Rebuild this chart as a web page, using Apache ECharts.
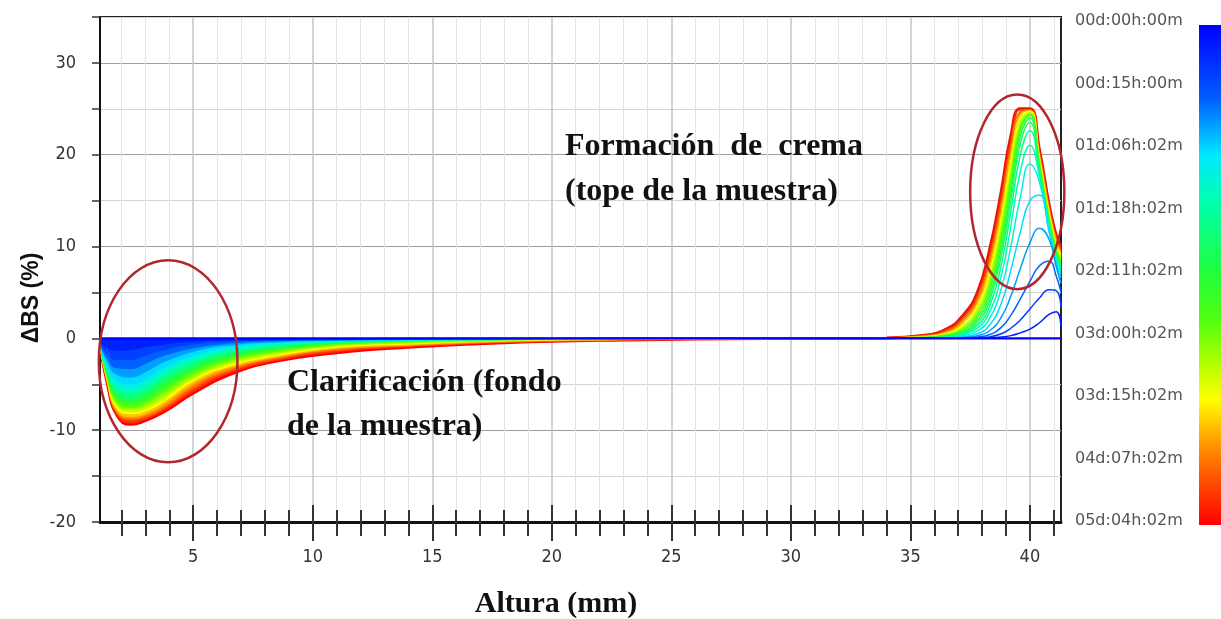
<!DOCTYPE html>
<html>
<head>
<meta charset="utf-8">
<script src="https://cdn.jsdelivr.net/npm/echarts@6/dist/echarts.min.js"></script>
<style>
  html, body { margin: 0; padding: 0; background: #fff; }
  #chart { width: 1221px; height: 619px; }
</style>
</head>
<body>
<div id="chart"></div>
<script>
// Sample heights (mm) for the lower (clarification) and upper (creaming) parts of each profile
const heightLow = [1.1, 1.4, 1.8, 2.4, 3.0, 3.8, 5.0, 6.5, 8.5, 11, 14, 18, 23, 29, 34];
const heightTop = [34, 35.5, 36.5, 37.2, 37.8, 38.3, 38.8, 39.2, 39.6, 40.0, 40.4, 40.8, 41.1, 41.3];

// ΔBS (%) of each scan along the lower part, first row = reference scan
const bsLow = [
  [0, 0, 0, 0, 0, 0, 0, 0, 0, 0, 0, 0, 0, 0, 0],
  [-0.3, -1.0, -1.3, -1.2, -0.9, -0.6, -0.3, -0.15, -0.1, -0.05, 0, 0, 0, 0, 0],
  [-0.4, -1.6, -2.3, -2.3, -1.8, -1.2, -0.6, -0.3, -0.15, -0.1, -0.05, 0, 0, 0, 0],
  [-0.5, -2.1, -3.2, -3.3, -2.7, -1.8, -1.0, -0.5, -0.25, -0.15, -0.1, -0.05, 0, 0, 0],
  [-0.5, -2.5, -3.9, -4.2, -3.6, -2.5, -1.4, -0.7, -0.35, -0.2, -0.1, -0.05, 0, 0, 0],
  [-0.6, -2.9, -4.6, -5.0, -4.4, -3.1, -1.8, -0.9, -0.45, -0.25, -0.15, -0.05, 0, 0, 0],
  [-0.6, -3.2, -5.0, -5.5, -5.0, -3.6, -2.2, -1.2, -0.6, -0.3, -0.15, -0.05, 0, 0, 0],
  [-0.6, -3.4, -5.4, -5.9, -5.4, -4.0, -2.5, -1.4, -0.7, -0.35, -0.2, -0.1, 0, 0, 0],
  [-0.7, -3.6, -5.7, -6.3, -5.8, -4.4, -2.8, -1.6, -0.85, -0.4, -0.2, -0.1, 0, 0, 0],
  [-0.7, -3.8, -6.0, -6.6, -6.2, -4.8, -3.1, -1.8, -1.0, -0.45, -0.25, -0.1, 0, 0, 0],
  [-0.7, -3.9, -6.3, -6.9, -6.5, -5.1, -3.4, -2.0, -1.1, -0.5, -0.3, -0.1, 0, 0, 0],
  [-0.7, -4.0, -6.6, -7.2, -6.8, -5.5, -3.6, -2.2, -1.25, -0.55, -0.3, -0.1, -0.05, 0, 0],
  [-0.8, -4.2, -6.9, -7.5, -7.1, -5.8, -3.9, -2.4, -1.4, -0.65, -0.35, -0.15, -0.05, 0, 0],
  [-0.8, -4.3, -7.1, -7.7, -7.4, -6.2, -4.2, -2.6, -1.55, -0.75, -0.45, -0.2, -0.05, 0, 0],
  [-0.8, -4.4, -7.4, -8.0, -7.7, -6.5, -4.4, -2.8, -1.7, -0.85, -0.5, -0.2, -0.1, 0, 0],
  [-0.8, -4.5, -7.6, -8.2, -7.9, -6.8, -4.6, -3.0, -1.85, -0.95, -0.6, -0.25, -0.1, 0, 0],
  [-0.9, -4.6, -7.8, -8.5, -8.2, -7.1, -4.9, -3.2, -2.0, -1.05, -0.7, -0.3, -0.1, -0.05, 0],
  [-0.9, -4.7, -8.0, -8.7, -8.4, -7.4, -5.2, -3.4, -2.1, -1.2, -0.75, -0.35, -0.15, -0.05, 0],
  [-0.9, -4.8, -8.1, -8.9, -8.6, -7.6, -5.5, -3.6, -2.25, -1.3, -0.85, -0.4, -0.15, -0.05, 0],
  [-0.9, -4.9, -8.3, -9.2, -8.8, -7.8, -5.8, -3.8, -2.4, -1.45, -0.9, -0.45, -0.2, -0.05, 0],
  [-0.9, -5.0, -8.4, -9.4, -9.0, -8.0, -6.0, -4.0, -2.5, -1.6, -1.0, -0.5, -0.2, -0.05, 0]
];

// ΔBS (%) of each scan along the upper part, same scan order
const bsTop = [
  [0, 0, 0, 0, 0, 0, 0, 0, 0, 0, 0, 0, 0, 0],
  [0, 0, 0, 0, 0, 0.05, 0.15, 0.3, 0.6, 1.0, 1.7, 2.6, 2.9, 1.3],
  [0, 0, 0, 0, 0.05, 0.15, 0.5, 1.1, 2.0, 3.2, 4.4, 5.3, 5.2, 3.3],
  [0, 0, 0, 0.05, 0.15, 0.4, 1.2, 2.5, 4.3, 6.2, 7.9, 8.4, 6.8, 5.0],
  [0, 0, 0, 0.1, 0.3, 0.8, 2.3, 4.6, 7.6, 10.4, 12.0, 10.8, 7.8, 6.0],
  [0, 0, 0.05, 0.2, 0.5, 1.4, 3.8, 7.4, 11.6, 15.0, 15.6, 11.6, 8.2, 6.6],
  [0, 0, 0.1, 0.3, 0.8, 2.1, 5.4, 10.0, 15.4, 19.0, 17.0, 11.8, 8.4, 7.0],
  [0, 0, 0.1, 0.4, 1.1, 2.8, 6.8, 12.2, 18.2, 21.0, 17.6, 12.0, 8.6, 7.3],
  [0, 0, 0.15, 0.5, 1.4, 3.4, 8.0, 13.8, 20.0, 22.6, 18.0, 12.2, 8.8, 7.6],
  [0, 0.05, 0.2, 0.6, 1.7, 4.0, 9.0, 15.0, 21.2, 23.5, 18.3, 12.4, 9.0, 7.8],
  [0, 0.05, 0.25, 0.7, 2.0, 4.5, 9.8, 15.8, 22.0, 24.0, 18.5, 12.6, 9.2, 8.0],
  [0, 0.05, 0.3, 0.85, 2.3, 5.0, 10.5, 16.6, 22.6, 24.3, 18.7, 12.8, 9.4, 8.2],
  [0, 0.1, 0.35, 1.0, 2.6, 5.5, 11.2, 17.3, 23.0, 24.4, 18.9, 13.0, 9.6, 8.4],
  [0, 0.1, 0.4, 1.15, 2.9, 6.0, 11.8, 18.0, 23.4, 24.5, 19.1, 13.2, 9.8, 8.6],
  [0, 0.1, 0.45, 1.3, 3.2, 6.5, 12.4, 18.6, 23.7, 24.6, 19.3, 13.4, 10.0, 8.8],
  [0, 0.15, 0.5, 1.5, 3.5, 7.0, 13.0, 19.2, 24.0, 24.7, 19.5, 13.6, 10.2, 9.0],
  [0.05, 0.2, 0.6, 1.7, 3.8, 7.5, 13.6, 19.8, 24.3, 24.8, 19.7, 13.8, 10.4, 9.2],
  [0.05, 0.2, 0.7, 1.9, 4.1, 8.0, 14.2, 20.4, 24.5, 24.8, 19.9, 14.0, 10.6, 9.4],
  [0.05, 0.25, 0.8, 2.1, 4.4, 8.5, 14.8, 21.0, 24.7, 24.9, 20.1, 14.2, 10.8, 9.6],
  [0.05, 0.3, 0.9, 2.3, 4.7, 9.0, 15.4, 21.5, 24.9, 24.9, 20.3, 14.4, 11.0, 9.8],
  [0.05, 0.3, 1.0, 2.5, 5.0, 9.5, 16.0, 22.0, 25.0, 25.0, 20.5, 14.6, 11.2, 10.0]
];

// Elapsed-time marks of the colour scale
const scanLabels = ['00d:00h:00m', '00d:15h:00m', '01d:06h:02m', '01d:18h:02m', '02d:11h:02m',
                    '03d:00h:02m', '03d:15h:02m', '04d:07h:02m', '05d:04h:02m'];

const xMajorTicks = [5, 10, 15, 20, 25, 30, 35, 40];
const xMinorTicks = [2, 3, 4, 6, 7, 8, 9, 11, 12, 13, 14, 16, 17, 18, 19, 21, 22, 23, 24,
                     26, 27, 28, 29, 31, 32, 33, 34, 36, 37, 38, 39, 41];

// Colour scale, first scan blue to last scan red
const colorStops = [
  [0.00, '#0000ff'], [0.15, '#0060ff'], [0.26, '#00e8ff'], [0.35, '#00ffb0'],
  [0.49, '#20ff40'], [0.59, '#50ff10'], [0.69, '#c0ff00'], [0.75, '#ffff00'],
  [0.83, '#ffa000'], [0.91, '#ff5000'], [1.00, '#ff0000']
];
function scaleColor(t) {
  for (let i = 1; i < colorStops.length; i++) {
    if (t <= colorStops[i][0]) {
      const a = colorStops[i - 1], b = colorStops[i];
      const u = (t - a[0]) / (b[0] - a[0]);
      return echarts.color.lerp(u, [a[1], b[1]]);
    }
  }
  return colorStops[colorStops.length - 1][1];
}

const X_MIN = 1.1, X_MAX = 41.3;
const tickFont = "'Liberation Sans Narrow', 'DejaVu Sans Condensed', Arial, sans-serif";
const serifFont = "'Liberation Serif', 'DejaVu Serif', 'Times New Roman', serif";

const chart = echarts.init(document.getElementById('chart'), null, { renderer: 'canvas' });

const nScans = bsLow.length;
const series = [];
// Lower part: filled towards zero, latest scan underneath
for (let k = nScans - 1; k >= 0; k--) {
  const c = scaleColor(k / (nScans - 1));
  series.push({
    type: 'line',
    name: 'low' + k,
    data: heightLow.map((h, i) => [h, bsLow[k][i]]),
    smooth: 0.5,
    showSymbol: false,
    silent: true,
    lineStyle: { color: c, width: k === 0 ? 2.2 : (k === nScans - 1 ? 2.4 : 1.2) },
    areaStyle: k === 0 ? undefined : { color: c, opacity: 1, origin: 'auto' },
    z: 3
  });
}
// Upper part: individual profile lines
for (let k = nScans - 1; k >= 0; k--) {
  const c = scaleColor(k / (nScans - 1));
  series.push({
    type: 'line',
    name: 'top' + k,
    data: heightTop.map((h, i) => [h, bsTop[k][i]]),
    smooth: 0.5,
    showSymbol: false,
    silent: true,
    lineStyle: { color: k === nScans - 1 ? '#e8140c' : c,
                 width: k === nScans - 1 ? 3 : (k === 0 ? 2.2 : 1.5) },
    z: 3
  });
}

const tickLine = { color: '#333', width: 2 };
function baseX(extra) {
  return Object.assign({
    type: 'value', min: X_MIN, max: X_MAX, position: 'bottom',
    axisLine: { show: false, onZero: false },
    axisLabel: { show: false },
    splitLine: { show: false }
  }, extra);
}

const option = {
  animation: false,
  backgroundColor: '#fff',
  grid: {
    left: 100, right: 160, top: 17, bottom: 97,
    show: true, borderColor: '#222', borderWidth: 2, backgroundColor: '#fff'
  },
  xAxis: [
    baseX({
      axisLine: { show: true, onZero: false, lineStyle: { color: '#111', width: 3 } },
      axisTick: { show: true, customValues: xMajorTicks, length: 19, lineStyle: tickLine },
      axisLabel: { show: true, customValues: xMajorTicks, margin: 26, fontSize: 18,
                   color: '#333', fontFamily: tickFont },
      splitLine: { show: true, lineStyle: { color: '#c4c4c4', width: 1.5 } }
    }),
    baseX({
      axisTick: { show: true, customValues: xMinorTicks, length: 14, lineStyle: tickLine },
      splitLine: { show: true, lineStyle: { color: '#e4e4e4', width: 1 } }
    }),
    baseX({
      axisTick: { show: true, inside: true, customValues: xMajorTicks, length: 17, lineStyle: tickLine }
    }),
    baseX({
      axisTick: { show: true, inside: true, customValues: xMinorTicks, length: 12, lineStyle: tickLine }
    })
  ],
  yAxis: {
    type: 'value', min: -20, max: 35, interval: 5,
    axisLine: { show: true, onZero: false, lineStyle: { color: '#111', width: 2 } },
    axisTick: { show: true, length: 8, lineStyle: { color: '#333', width: 1.5 } },
    axisLabel: {
      formatter: v => (v % 10 === 0 ? String(v) : ''),
      margin: 24, fontSize: 18, color: '#333', fontFamily: tickFont
    },
    splitLine: { show: true, lineStyle: { color: ['#9e9e9e', '#d4d4d4'], width: 1.2 } }
  },
  series: series
};
chart.setOption(option);

// Annotation ellipses, given in data units (centre, half-width in mm, half-height in %)
const highlightZones = [
  { cx: 3.95, cy: -2.5, rx: 2.9, ry: 11.0 },
  { cx: 39.47, cy: 15.96, rx: 1.97, ry: 10.6 }
];

const graphics = [];
highlightZones.forEach(z => {
  const c = chart.convertToPixel({ gridIndex: 0 }, [z.cx, z.cy]);
  const ex = chart.convertToPixel({ gridIndex: 0 }, [z.cx + z.rx, z.cy + z.ry]);
  graphics.push({
    type: 'ellipse', silent: true, z: 100,
    shape: { cx: c[0], cy: c[1], rx: Math.abs(ex[0] - c[0]), ry: Math.abs(ex[1] - c[1]) },
    style: { fill: 'none', stroke: '#b3262e', lineWidth: 2.5 }
  });
});

// Colour scale bar and its time marks
const barTop = 25, barH = 500, barX = 1199, barW = 22;
graphics.push({
  type: 'rect', silent: true, z: 100,
  shape: { x: barX, y: barTop, width: barW, height: barH },
  style: {
    fill: new echarts.graphic.LinearGradient(0, 0, 0, 1,
      colorStops.map(s => ({ offset: s[0], color: s[1] })))
  }
});
scanLabels.forEach((t, i) => {
  graphics.push({
    type: 'text', silent: true, z: 100,
    x: 1075, y: barTop - 4 + i * (barH / (scanLabels.length - 1)),
    style: {
      text: t, fill: '#555', fontSize: 16,
      fontFamily: "'DejaVu Sans', Arial, sans-serif",
      textAlign: 'left', textVerticalAlign: 'middle'
    }
  });
});

// Axis titles
graphics.push({
  type: 'text', silent: true, z: 100,
  x: 32, y: 298, rotation: Math.PI / 2,
  style: {
    text: 'ΔBS (%)', fill: '#111', fontSize: 23, fontWeight: 'bold',
    fontFamily: "'Liberation Sans', Arial, sans-serif",
    textAlign: 'center', textVerticalAlign: 'middle'
  }
});
graphics.push({
  type: 'text', silent: true, z: 100,
  x: 556, y: 604,
  style: {
    text: 'Altura (mm)', fill: '#111', fontSize: 30, fontWeight: 'bold',
    fontFamily: serifFont, textAlign: 'center', textVerticalAlign: 'middle'
  }
});

// Region notes
const notes = [
  { text: 'Formación  de  crema', x: 565, y: 147 },
  { text: '(tope de la muestra)', x: 565, y: 192 },
  { text: 'Clarificación (fondo', x: 287, y: 383 },
  { text: 'de la muestra)', x: 287, y: 427 }
];
notes.forEach(n => {
  graphics.push({
    type: 'text', silent: true, z: 100,
    x: n.x, y: n.y,
    style: {
      text: n.text, fill: '#111', fontSize: 32, fontWeight: 'bold',
      fontFamily: serifFont, textAlign: 'left', textVerticalAlign: 'middle'
    }
  });
});

chart.setOption({ graphic: graphics });
</script>
</body>
</html>
